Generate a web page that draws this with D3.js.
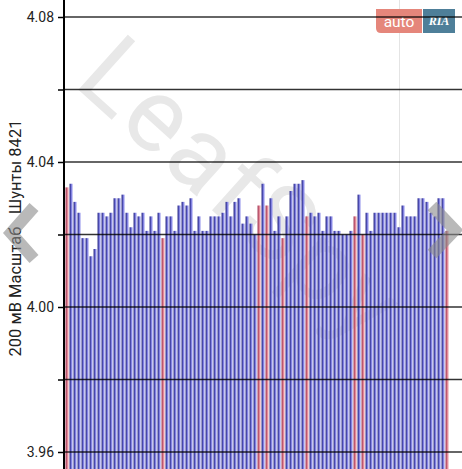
<!DOCTYPE html>
<html><head><meta charset="utf-8">
<script src="https://cdn.jsdelivr.net/npm/d3@7/dist/d3.min.js"></script>
<style>html,body{margin:0;padding:0;background:#fff;overflow:hidden}svg{display:block}</style>
</head><body>
<svg id="c" width="462" height="469"></svg>
<script>
// Cell voltages (V), 96 cells
const cellVoltages = [
  4.033,4.034,4.029,4.026,4.019,4.019,4.014,4.016,4.026,4.026,4.025,4.026,
  4.030,4.030,4.031,4.026,4.022,4.026,4.025,4.026,4.021,4.025,4.021,4.026,
  4.019,4.025,4.025,4.021,4.028,4.029,4.028,4.030,4.021,4.025,4.021,4.021,
  4.025,4.025,4.025,4.026,4.029,4.025,4.029,4.030,4.023,4.025,4.023,4.020,
  4.028,4.034,4.028,4.030,4.021,4.025,4.019,4.025,4.032,4.034,4.034,4.035,
  4.025,4.026,4.025,4.026,4.021,4.025,4.025,4.021,4.021,4.020,4.020,4.021,
  4.025,4.031,4.020,4.026,4.021,4.026,4.026,4.026,4.026,4.026,4.026,4.022,
  4.028,4.025,4.025,4.025,4.030,4.030,4.029,4.026,4.025,4.030,4.030,4.021
];
// Cells drawn in red (shunt active)
const shuntCells = [0,24,48,50,54,60,72,74,95];
const tickValues = [3.96,3.98,4.00,4.02,4.04,4.06,4.08];
const tickLabels = ["3.96","","4.00","","4.04","","4.08"];
const axisTitle = "200 мВ Масштаб   Шунты 8421";

const W = 462, H = 469;
const svg = d3.select("#c");
const defs = svg.append("defs");
function grad(id, stops){
  const g = defs.append("linearGradient").attr("id", id).attr("x1","0").attr("x2","1").attr("y1","0").attr("y2","0");
  stops.forEach(s => g.append("stop").attr("offset", s[0]).attr("stop-color", s[1]));
}
grad("gBlue", [[0,"#38388e"],[0.38,"#4a4aae"],[0.45,"#7c7cdc"],[1,"#8e8eea"]]);
grad("gRed",  [[0,"#a8445e"],[0.38,"#be5a72"],[0.45,"#e08392"],[1,"#ea96a2"]]);

const y = d3.scaleLinear().domain([3.96, 4.08]).range([452, 17]);
const x = d3.scaleBand().domain(d3.range(cellVoltages.length)).range([65, 449]).paddingInner(0.25).paddingOuter(0.125);

// watermark
svg.append("text").attr("transform","translate(72,84) rotate(42)")
  .attr("font-family","Roboto").attr("font-weight",400).attr("font-size",104)
  .attr("letter-spacing",3).attr("fill","#e8e8e8").text("LeafSpy");

// faint vertical line
svg.append("line").attr("x1",399.5).attr("x2",399.5).attr("y1",0).attr("y2",H)
  .attr("stroke","#e4e4e4").attr("stroke-width",1);

// bars
svg.append("g").selectAll("rect").data(cellVoltages).join("rect")
  .attr("x",(d,i)=>x(i)).attr("width",x.bandwidth())
  .attr("y",d=>y(d)).attr("height",d=>H - y(d))
  .attr("fill",(d,i)=> shuntCells.includes(i) ? "url(#gRed)" : "url(#gBlue)");

// logo
const logo = svg.append("g");
logo.append("path").attr("d","M376,9 H422 V33 H381 Q376,33 376,28 Z").attr("fill","#e5867b");
logo.append("text").attr("x",399).attr("y",26.5).attr("text-anchor","middle")
  .attr("font-family","Roboto").attr("font-size",15.5).attr("fill","#fff").text("auto");
logo.append("rect").attr("x",423).attr("y",9).attr("width",32).attr("height",24).attr("fill","#4e7f99");
logo.append("text").attr("x",439).attr("y",25).attr("text-anchor","middle")
  .attr("font-family","Liberation Serif").attr("font-style","italic").attr("font-weight","bold")
  .attr("font-size",12).attr("fill","#fff").text("RIA");

// grid lines
svg.append("g").selectAll("line").data(tickValues).join("line")
  .attr("x1",64).attr("x2",W).attr("y1",d=>y(d)).attr("y2",d=>y(d))
  .attr("stroke","#000").attr("stroke-opacity",0.8).attr("stroke-width",1.4);

// axis
const axis = d3.axisLeft(y).tickValues(tickValues).tickSize(6).tickPadding(4)
  .tickFormat((d,i)=>tickLabels[i]);
const ag = svg.append("g").attr("transform","translate(64,0)").call(axis);
ag.select(".domain").remove();
ag.selectAll(".tick line").attr("stroke","#000").attr("stroke-width",1.5);
ag.selectAll(".tick text").attr("font-family","Roboto").attr("font-size",14).attr("fill","#222");
svg.append("line").attr("x1",64).attr("x2",64).attr("y1",0).attr("y2",H)
  .attr("stroke","#000").attr("stroke-width",2);

// axis title
svg.append("text").attr("transform","translate(21,238) rotate(-90)")
  .attr("text-anchor","middle").attr("font-family","Roboto").attr("font-size",16.5)
  .attr("fill","#222").attr("xml:space","preserve").style("white-space","pre").text(axisTitle);

// navigation chevrons
svg.append("path").attr("d","M34,207 L11,233 L34,259").attr("fill","none")
  .attr("stroke","#8a8a8a").attr("stroke-opacity",0.6).attr("stroke-width",12).attr("stroke-linejoin","miter");
svg.append("path").attr("d","M432,206 L455,230 L432,254").attr("fill","none")
  .attr("stroke","#8a8a8a").attr("stroke-opacity",0.6).attr("stroke-width",12).attr("stroke-linejoin","miter");
</script>
</body></html>
